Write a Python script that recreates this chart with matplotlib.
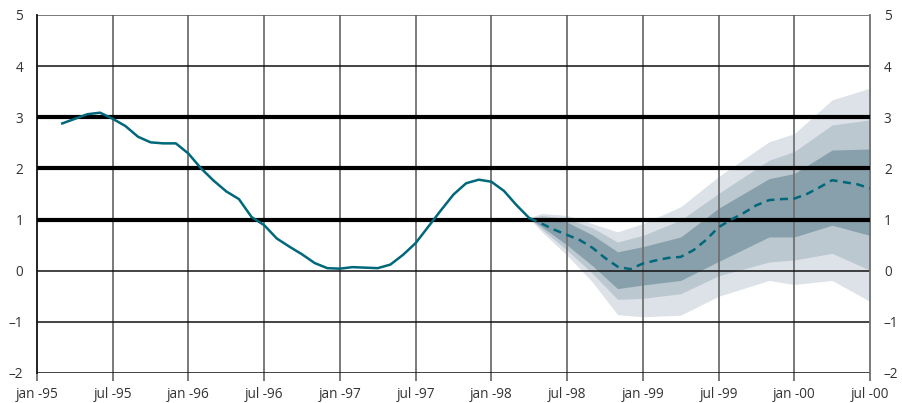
import matplotlib
matplotlib.use("Agg")
import matplotlib.pyplot as plt
import numpy as np
import pandas as pd

# Observed series (monthly), from March 1995 to April 1998
hist_start = "1995-03"
hist_values = [2.88, 2.97, 3.06, 3.09, 2.97, 2.83, 2.62, 2.51, 2.49, 2.49,
               2.29, 2.00, 1.76, 1.55, 1.40, 1.05, 0.89, 0.63, 0.47, 0.32,
               0.15, 0.05, 0.04, 0.07, 0.06, 0.05, 0.12, 0.31, 0.54, 0.86,
               1.18, 1.49, 1.71, 1.78, 1.74, 1.56, 1.28, 1.03]

# Central projection (monthly), April 1998 to July 2000
proj_start = "1998-04"
proj_values = [1.03, 0.92, 0.80, 0.70, 0.60, 0.45, 0.25, 0.08, 0.03, 0.14,
               0.20, 0.25, 0.27, 0.40, 0.60, 0.85, 1.00, 1.13, 1.28, 1.38,
               1.40, 1.41, 1.50, 1.63, 1.77, 1.73, 1.69, 1.61]

# Uncertainty bands around the projection
band_dates = ["1998-04", "1998-05", "1998-07", "1998-09", "1998-11", "1999-01",
              "1999-04", "1999-07", "1999-11", "2000-01", "2000-04", "2000-07"]
outer_hi = [1.04, 1.12, 1.08, 0.92, 0.76, 0.92, 1.25, 1.84, 2.52, 2.68, 3.34, 3.57]
mid_hi   = [1.03, 1.08, 1.02, 0.84, 0.56, 0.69, 0.99, 1.51, 2.16, 2.33, 2.85, 2.95]
inner_hi = [1.03, 1.03, 0.95, 0.70, 0.37, 0.47, 0.66, 1.22, 1.80, 1.90, 2.36, 2.38]
inner_lo = [1.03, 0.86, 0.50, 0.10, -0.35, -0.28, -0.19, 0.18, 0.66, 0.66, 0.89, 0.69]
mid_lo   = [1.03, 0.81, 0.40, -0.05, -0.56, -0.54, -0.45, -0.10, 0.17, 0.21, 0.34, 0.01]
outer_lo = [1.02, 0.76, 0.30, -0.22, -0.86, -0.90, -0.87, -0.50, -0.19, -0.27, -0.19, -0.60]

y_ticks = [-2, -1, 0, 1, 2, 3, 4, 5]
target_lines = [1, 2, 3]


def month_index(period_str):
    p = pd.Period(period_str, freq="M")
    return (p.year - 1995) * 12 + p.month - 1


x_hist = month_index(hist_start) + np.arange(len(hist_values))
x_proj = month_index(proj_start) + np.arange(len(proj_values))
x_band = np.array([month_index(d) for d in band_dates])

teal = "#00687a"
c_outer = "#dde2e8"
c_mid = "#bcc8d0"
c_inner = "#87a0ac"

plt.rcParams["font.family"] = ["Open Sans", "DejaVu Sans"]

fig = plt.figure(figsize=(9.02, 4.03), dpi=100)
ax = fig.add_axes([37 / 902, 1 - 373 / 403, (870 - 37) / 902, (373 - 15) / 403])

# Fan of uncertainty bands
ax.fill_between(x_band, outer_lo, outer_hi, color=c_outer, lw=0, zorder=1)
ax.fill_between(x_band, mid_lo, mid_hi, color=c_mid, lw=0, zorder=1.1)
ax.fill_between(x_band, inner_lo, inner_hi, color=c_inner, lw=0, zorder=1.2)

# Grid
x_ticks = np.arange(0, 67, 6)
for xv in x_ticks[1:-1]:
    ax.axvline(xv, color="#707070", lw=1.3, zorder=2)
for yv in y_ticks:
    if yv in target_lines:
        ax.axhline(yv, color="black", lw=3.0, zorder=3)
    else:
        ax.axhline(yv, color="#111111" if yv < 5 else "#555555", lw=1.1, zorder=2)

# Series
ax.plot(x_hist, hist_values, color=teal, lw=1.8, zorder=4, solid_joinstyle="round")
ax.plot(x_proj, proj_values, color=teal, lw=1.8, zorder=4, dashes=(3.2, 2.2))

ax.set_xlim(0, 66)
ax.set_ylim(-2, 5)

labels = []
for m in x_ticks:
    yy = (1995 + m // 12) % 100
    labels.append(f"{'jan' if m % 12 == 0 else 'jul'} -{yy:02d}")
ax.set_xticks(x_ticks)
ax.set_xticklabels(labels)

ytl = [("–" + str(abs(v))) if v < 0 else str(v) for v in y_ticks]
ax.set_yticks(y_ticks)
ax.set_yticklabels(ytl)
ax.tick_params(axis="y", length=0, pad=10, labelsize=9.8, colors="#333333",
               left=True, right=True, labelleft=True, labelright=True)
ax.tick_params(axis="x", length=6, width=1.3, color="#707070", pad=4,
               labelsize=9.8, labelcolor="#333333")

for side in ["top", "bottom"]:
    ax.spines[side].set_visible(False)
ax.spines["left"].set_color("#111111")
ax.spines["left"].set_linewidth(1.3)
ax.spines["right"].set_color("#707070")
ax.spines["right"].set_linewidth(1.3)

fig.savefig("out.png", dpi=100)
